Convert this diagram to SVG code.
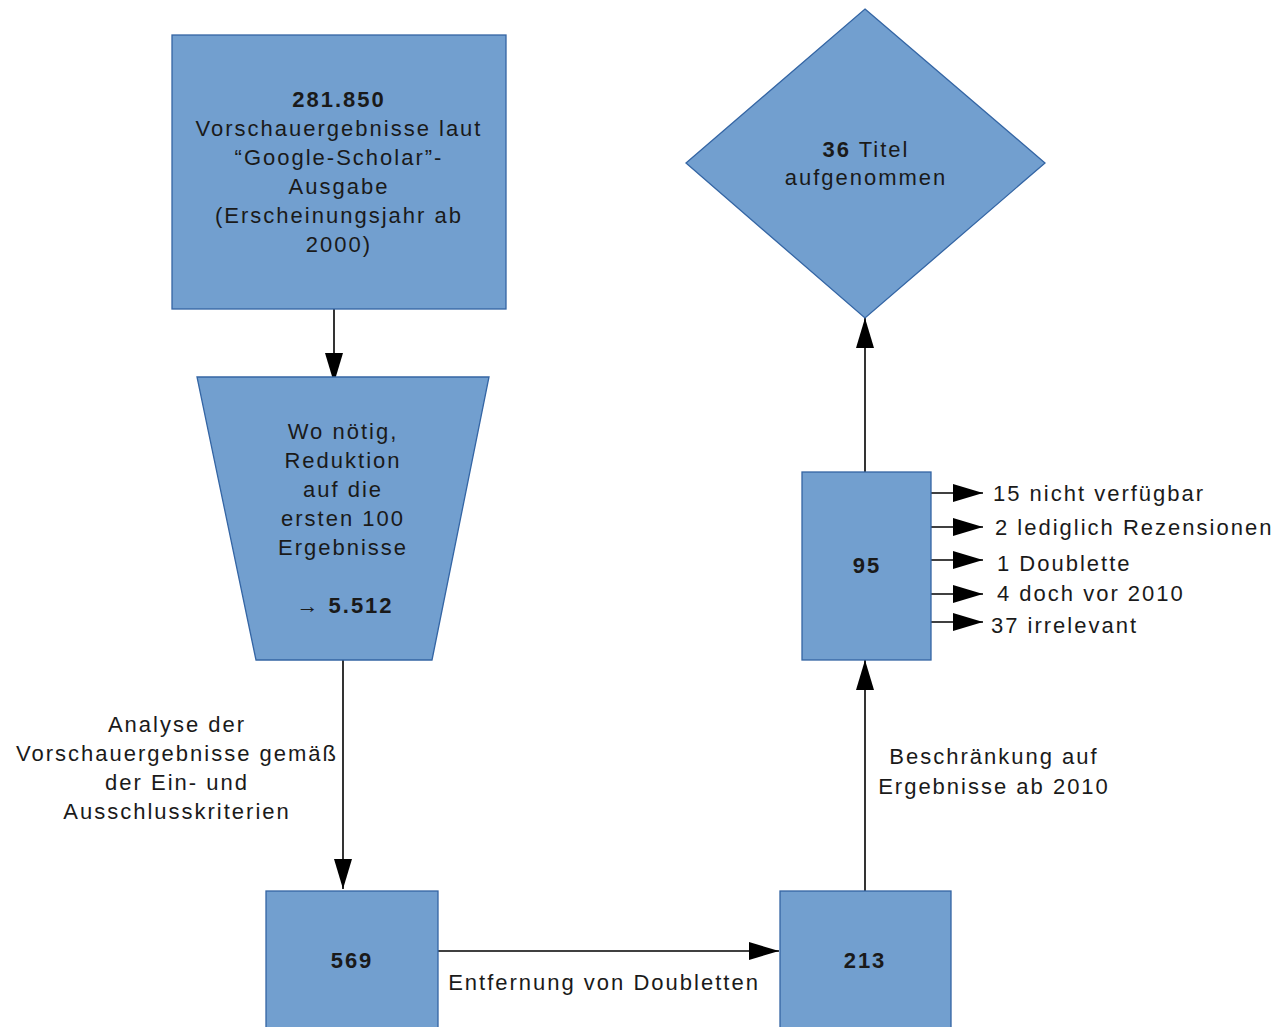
<svg xmlns="http://www.w3.org/2000/svg" width="1283" height="1027" viewBox="0 0 1283 1027">
<defs>
<style>
.shape{fill:#729fcf;stroke:#3465a4;stroke-width:1.3}
.t{font-family:"Liberation Sans",Arial,sans-serif;font-size:22px;fill:#1a1a1a;text-anchor:middle;letter-spacing:2px}
.l{text-anchor:start}
.b{font-weight:bold}
.c{stroke:#000;stroke-width:1.6;fill:none}
</style>
<marker id="ah2" markerWidth="30" markerHeight="18" viewBox="0 0 30 18" refX="30" refY="9" orient="auto" markerUnits="userSpaceOnUse">
<path d="M0,0 L30,9 L0,18 Z" fill="#000"/>
</marker>
</defs>
<rect width="1283" height="1027" fill="#fff"/>
<g id="connectors">
<line class="c" x1="334" y1="309" x2="334" y2="383" marker-end="url(#ah2)"/>
<line class="c" x1="343" y1="660" x2="343" y2="889" marker-end="url(#ah2)"/>
<line class="c" x1="438" y1="951" x2="779" y2="951" marker-end="url(#ah2)"/>
<line class="c" x1="865" y1="891" x2="865" y2="660" marker-end="url(#ah2)"/>
<line class="c" x1="865" y1="472" x2="865" y2="318" marker-end="url(#ah2)"/>
<line class="c" x1="931" y1="493" x2="983" y2="493" marker-end="url(#ah2)"/>
<line class="c" x1="931" y1="527" x2="983" y2="527" marker-end="url(#ah2)"/>
<line class="c" x1="931" y1="560" x2="983" y2="560" marker-end="url(#ah2)"/>
<line class="c" x1="931" y1="594" x2="983" y2="594" marker-end="url(#ah2)"/>
<line class="c" x1="931" y1="622" x2="983" y2="622" marker-end="url(#ah2)"/>
</g>
<g id="n-start">
<rect class="shape" x="172" y="35" width="334" height="274"/>
<text class="t b" x="339" y="107">281.850</text>
<text class="t" x="339" y="136">Vorschauergebnisse laut</text>
<text class="t" x="339" y="165">“Google-Scholar”-</text>
<text class="t" x="339" y="194">Ausgabe</text>
<text class="t" x="339" y="223">(Erscheinungsjahr ab</text>
<text class="t" x="339" y="252">2000)</text>
</g>
<g id="n-reduktion">
<polygon class="shape" points="197,377 489,377 432,660 256,660"/>
<text class="t" x="343" y="439">Wo nötig,</text>
<text class="t" x="343" y="468">Reduktion</text>
<text class="t" x="343" y="497">auf die</text>
<text class="t" x="343" y="526">ersten 100</text>
<text class="t" x="343" y="555">Ergebnisse</text>
<text class="t" x="345" y="613">→ <tspan class="b">5.512</tspan></text>
</g>
<g id="n-569">
<rect class="shape" x="266" y="891" width="172" height="145"/>
<text class="t b" x="352" y="968">569</text>
</g>
<g id="n-213">
<rect class="shape" x="780" y="891" width="171" height="145"/>
<text class="t b" x="865" y="968">213</text>
</g>
<g id="n-95">
<rect class="shape" x="802" y="472" width="129" height="188"/>
<text class="t b" x="867" y="573">95</text>
</g>
<g id="n-36">
<polygon class="shape" points="865,9 1045,163 865,318 686,163"/>
<text class="t" x="866" y="157"><tspan class="b">36</tspan> Titel</text>
<text class="t" x="866" y="185">aufgenommen</text>
</g>
<g id="labels">
<text class="t" x="177" y="732">Analyse der</text>
<text class="t" x="177" y="761">Vorschauergebnisse gemäß</text>
<text class="t" x="177" y="790">der Ein- und</text>
<text class="t" x="177" y="819">Ausschlusskriterien</text>
<text class="t" x="994" y="764">Beschränkung auf</text>
<text class="t" x="994" y="794">Ergebnisse ab 2010</text>
<text class="t" x="604" y="990">Entfernung von Doubletten</text>
<text class="t l" x="993" y="501">15 nicht verfügbar</text>
<text class="t l" x="995" y="535">2 lediglich Rezensionen</text>
<text class="t l" x="997" y="571">1 Doublette</text>
<text class="t l" x="997" y="601">4 doch vor 2010</text>
<text class="t l" x="991" y="633">37 irrelevant</text>
</g>
</svg>
